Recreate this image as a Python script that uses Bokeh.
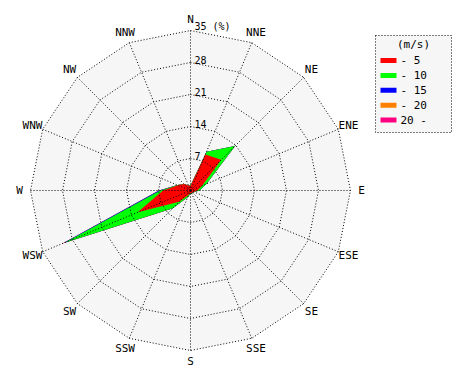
import numpy as np
from bokeh.plotting import figure
from bokeh.models import Range1d
from bokeh.embed import file_html
from bokeh.resources import INLINE
from bokeh.core.properties import value

# ---- data ----
directions = ["N", "NNE", "NE", "ENE", "E", "ESE", "SE", "SSE",
              "S", "SSW", "SW", "WSW", "W", "WNW", "NW", "NNW"]
speed_classes = ["- 5", "- 10", "- 15", "- 20", "20 -"]
class_colors = ["#ff0000", "#00ff00", "#0000ff", "#ff8000", "#ff0080"]
freq_0_5 = [1.0, 8.5, 9.5, 2.8, 1.5, 0.8, 0.6, 0.6, 0.6, 1.0, 3.5, 12.5, 6.0, 3.0, 2.0, 1.2]
freq_5_10 = [0.1, 0.7, 4.3, 1.0, 0.5, 0.1, 0.1, 0.1, 0.1, 0.6, 2.0, 17.3, 0.6, 0.1, 0.0, 0.0]
freq_10_15 = [0.0, 0.0, 0.0, 0.0, 0.0, 0.0, 0.0, 0.0, 0.0, 0.0, 0.0, 0.4, 0.3, 0.0, 0.0, 0.0]
freq_15_20 = [0.0, 0.0, 0.0, 0.0, 0.0, 0.0, 0.0, 0.0, 0.0, 0.0, 0.1, 0.1, 0.0, 0.0, 0.0, 0.0]
freq_20_up = [0.0] * 16
ring_ticks = [7, 14, 21, 28, 35]
unit_label = "(%)"
legend_title = "(m/s)"

# ---- geometry ----
W, H = 470, 380
CX, CY = 190, 190          # centre in canvas px
S = 160 / 35.0             # px per percent
RMAX = ring_ticks[-1]

def dx(px):
    return (px - CX) / S

def dy(py):
    return (CY - py) / S

theta = np.deg2rad(np.arange(16) * 22.5)
sin_t, cos_t = np.sin(theta), np.cos(theta)

p = figure(width=W, height=H, output_backend="svg", toolbar_location=None,
           x_range=Range1d(dx(0), dx(W)), y_range=Range1d(dy(H), dy(0)),
           min_border=0, outline_line_color=None,
           background_fill_color="white", border_fill_color="white")
p.axis.visible = False
p.grid.visible = False

FONT = value("DejaVu Sans Mono")
BG = "#f6f6f6"

# background polygon
p.patch(list(RMAX * sin_t), list(RMAX * cos_t), fill_color=BG, line_color=None)

# stacked wind-rose polygons
stack = np.array([freq_0_5, freq_5_10, freq_10_15, freq_15_20, freq_20_up])
cum = np.cumsum(stack, axis=0)
for k in reversed(range(len(speed_classes))):
    r = cum[k]
    p.patch(list(r * sin_t), list(r * cos_t), fill_color=class_colors[k],
            line_color=None)

# grid rings
for rt in ring_ticks:
    xs = list(rt * sin_t) + [rt * sin_t[0]]
    ys = list(rt * cos_t) + [rt * cos_t[0]]
    p.line(xs, ys, line_color="black", line_width=1, line_dash="1 2")

# spokes
p.segment(x0=[0] * 16, y0=[0] * 16, x1=list(RMAX * sin_t), y1=list(RMAX * cos_t),
          line_color="black", line_width=1, line_dash="1 2")

# ring labels
ring_labels = [str(t) for t in ring_ticks]
ring_labels[-1] = ring_labels[-1] + " " + unit_label
p.text(x=[0] * len(ring_ticks), y=ring_ticks, text=ring_labels,
       x_offset=4, y_offset=1, text_align="left", text_baseline="bottom",
       text_font=FONT, text_font_size="10px", text_color="black")

# direction labels
RL = 171 / S
p.text(x=list(RL * sin_t), y=list(RL * cos_t), text=directions,
       text_align="center", text_baseline="middle",
       text_font=FONT, text_font_size="11px", text_color="black")

# legend box
lx0, lx1, ly0, ly1 = 375, 451, 35, 132
p.quad(left=[dx(lx0)], right=[dx(lx1)], top=[dy(ly0)], bottom=[dy(ly1)],
       fill_color=BG, line_color="black", line_width=1, line_dash="1 2")
p.text(x=[dx((lx0 + lx1) / 2)], y=[dy(44)], text=[legend_title],
       text_align="center", text_baseline="middle",
       text_font=FONT, text_font_size="11px", text_color="black")
row_y = [dy(60 + 14.9 * i) for i in range(len(speed_classes))]
p.rect(x=[dx(388)] * len(speed_classes), y=row_y, width=16, height=5,
       width_units="screen", height_units="screen",
       fill_color=class_colors, line_color=None)
p.text(x=[dx(400)] * len(speed_classes), y=row_y, text=speed_classes,
       text_align="left", text_baseline="middle",
       text_font=FONT, text_font_size="11px", text_color="black")

open("out.html", "w").write(file_html(p, INLINE))
